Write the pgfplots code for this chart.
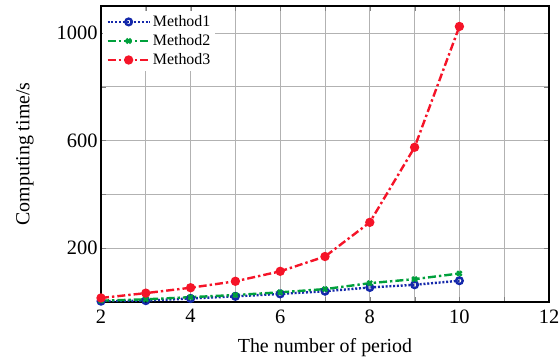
\documentclass[border=0pt]{standalone}
\usepackage{fontspec}
\setmainfont{Liberation Serif}
\usepackage{pgfplots}
\pgfplotsset{compat=1.18}
\definecolor{mblue}{RGB}{20,40,170}
\definecolor{mgreen}{RGB}{0,160,60}
\definecolor{mred}{RGB}{245,20,40}
\begin{document}
\begin{tikzpicture}
\path[use as bounding box] (-101bp,-60bp) rectangle (458bp,302bp);
\begin{axis}[
  scale only axis, width=448bp, height=296bp,
  at={(0,0)}, anchor=south west,
  xmin=2, xmax=12, ymin=0, ymax=1100,
  xtick={2,3,...,12}, xticklabels={2,,4,,6,,8,,10,,12},
  ytick={200,400,600,800,1000}, yticklabels={200,,600,,1000},
  tick align=inside, ticks=both, tick pos=both,
  major tick length=5bp,
  grid=major, major grid style={gray!60, line width=0.8bp},
  axis line style={line width=1.5bp, black},
  /pgf/number format/assume math mode=true,
  tick label style={font=\fontsize{20.5}{24}\selectfont},
  label style={font=\fontsize{20}{24}\selectfont},
  xlabel={The number of period}, ylabel={Computing time/s},
  x label style={at={(axis description cs:0.5,-0.155)}, anchor=center},
  y label style={at={(axis description cs:-0.17,0.5)}, anchor=center},
  xticklabel style={yshift=-4bp},
  legend style={at={(axis description cs:0.005,0.985)}, anchor=north west, draw=none, fill=white,
    font=\fontsize{16}{17}\selectfont, row sep=2.5bp, inner sep=3bp},
  legend cell align=left,
  legend image code/.code={\draw[mark repeat=2,mark phase=2] plot coordinates {(0bp,0bp) (21bp,0bp) (42bp,0bp)};},
]
\addplot[mblue, line width=2.4bp, dash pattern=on 2bp off 1.8bp, mark=o, mark size=3.3bp, mark options={solid, line width=2.4bp}]
 coordinates {(2,3) (3,5) (4,13) (5,21) (6,30) (7,40) (8,54) (9,64) (10,79)};
\addlegendentry{Method1}
\addplot[mgreen, line width=2.4bp, dash pattern=on 8bp off 3bp on 2.4bp off 3bp, mark=x, mark size=3.2bp, mark options={solid, line width=2.4bp}]
 coordinates {(2,5) (3,10) (4,18) (5,26) (6,36) (7,48) (8,70) (9,85) (10,106)};
\addlegendentry{Method2}
\addplot[mred, line width=2.4bp, dash pattern=on 8bp off 3bp on 2.4bp off 3bp, mark=*, mark size=3.4bp, mark options={solid}]
 coordinates {(2,15) (3,33) (4,53) (5,77) (6,114) (7,169) (8,296) (9,575) (10,1024)};
\addlegendentry{Method3}
\end{axis}
\end{tikzpicture}
\end{document}
